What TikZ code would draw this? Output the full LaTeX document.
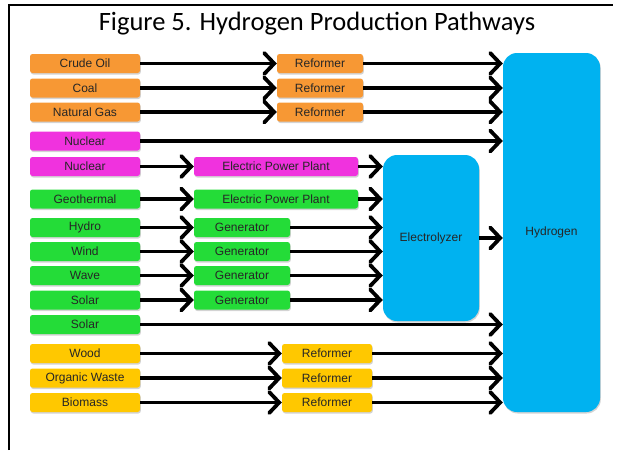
\documentclass[tikz,border=0pt]{standalone}
\usepackage{fontspec}
\setmainfont{Liberation Sans}
\newfontfamily\titlefont{Carlito}
\usetikzlibrary{arrows.meta, positioning, shadows}
\definecolor{fossil}{RGB}{247,152,52}
\definecolor{nuke}{RGB}{240,50,222}
\definecolor{renew}{RGB}{36,220,56}
\definecolor{bio}{RGB}{255,200,0}
\definecolor{sky}{RGB}{0,178,240}
\tikzset{
  src/.style={rounded corners=2.5pt, minimum height=19pt, inner sep=0pt, align=center,
    font=\fontsize{12}{14}\selectfont, text=black!85,
    drop shadow={shadow xshift=0.8pt, shadow yshift=-1.5pt, opacity=.35}},
  feed/.style={src, minimum width=110pt},
  tank/.style={src, rounded corners=14pt, fill=sky},
  arr/.style={-{Straight Barb[length=10pt, width=21pt, line cap=round, line join=miter]}, line width=3.8pt},
}

\begin{document}
\begin{tikzpicture}[x=1pt, y=-1pt]
    \useasboundingbox (0,0) rectangle (618,450);
    \draw[line width=2pt] (9,450) -- (9,5) -- (613,5);
    \node[font=\titlefont\fontsize{26.5}{30}\selectfont] (title) at (317,24) {Figure 5. Hydrogen Production Pathways};

    % sinks
    \node[tank, minimum width=97pt, minimum height=359pt] (h2) at (551.5,232.5) {Hydrogen};
    \node[tank, minimum width=96pt, minimum height=166pt] (elec) at (431,238) {Electrolyzer};

    % fossil
    \node[feed, fill=fossil] (oil) at (85,63.5) {Crude Oil};
    \node[feed, fill=fossil] (coal) at (85,88) {Coal};
    \node[feed, fill=fossil] (gas) at (85,112) {Natural Gas};
    \node[src, fill=fossil, minimum width=86pt] (ref1) at (320,63.5) {Reformer};
    \node[src, fill=fossil, minimum width=86pt] (ref2) at (320,88) {Reformer};
    \node[src, fill=fossil, minimum width=86pt] (ref3) at (320,112) {Reformer};

    % nuclear
    \node[feed, fill=nuke] (nuc1) at (85,141) {Nuclear};
    \node[feed, fill=nuke] (nuc2) at (85,166.5) {Nuclear};
    \node[src, fill=nuke, minimum width=164pt] (epp1) at (276,166.5) {Electric Power Plant};

    % renewables
    \node[feed, fill=renew] (geo) at (85,199) {Geothermal};
    \node[src, fill=renew, minimum width=164pt] (epp2) at (276,199) {Electric Power Plant};
    \node[feed, fill=renew] (hydro) at (85,227.5) {Hydro};
    \node[feed, fill=renew] (wind) at (85,251.5) {Wind};
    \node[feed, fill=renew] (wave) at (85,275.5) {Wave};
    \node[feed, fill=renew] (sol1) at (85,300) {Solar};
    \node[feed, fill=renew] (sol2) at (85,324.5) {Solar};
    \node[src, fill=renew, minimum width=96pt] (gen1) at (242,227.5) {Generator};
    \node[src, fill=renew, minimum width=96pt] (gen2) at (242,251.5) {Generator};
    \node[src, fill=renew, minimum width=96pt] (gen3) at (242,275.5) {Generator};
    \node[src, fill=renew, minimum width=96pt] (gen4) at (242,300) {Generator};

    % biomass
    \node[feed, fill=bio] (wood) at (85,353.5) {Wood};
    \node[feed, fill=bio] (waste) at (85,378) {Organic Waste};
    \node[feed, fill=bio] (biom) at (85,402.5) {Biomass};
    \node[src, fill=bio, minimum width=90pt] (ref4) at (327,353.5) {Reformer};
    \node[src, fill=bio, minimum width=90pt] (ref5) at (327,378) {Reformer};
    \node[src, fill=bio, minimum width=90pt] (ref6) at (327,402.5) {Reformer};

    % arrows
    \draw[arr] (oil) -- (ref1);
    \draw[arr] (coal) -- (ref2);
    \draw[arr] (gas) -- (ref3);
    \draw[arr] (ref1) -- (ref1 -| h2.west);
    \draw[arr] (ref2) -- (ref2 -| h2.west);
    \draw[arr] (ref3) -- (ref3 -| h2.west);
    \draw[arr] (nuc1) -- (nuc1 -| h2.west);
    \draw[arr] (nuc2) -- (epp1);
    \draw[arr] (epp1) -- (epp1 -| elec.west);
    \draw[arr] (geo) -- (epp2);
    \draw[arr] (epp2) -- (epp2 -| elec.west);
    \draw[arr] (hydro) -- (gen1);
    \draw[arr] (wind) -- (gen2);
    \draw[arr] (wave) -- (gen3);
    \draw[arr] (sol1) -- (gen4);
    \draw[arr] (gen1) -- (gen1 -| elec.west);
    \draw[arr] (gen2) -- (gen2 -| elec.west);
    \draw[arr] (gen3) -- (gen3 -| elec.west);
    \draw[arr] (gen4) -- (gen4 -| elec.west);
    \draw[arr] (elec) -- (elec -| h2.west);
    \draw[arr] (sol2) -- (sol2 -| h2.west);
    \draw[arr] (wood) -- (ref4);
    \draw[arr] (waste) -- (ref5);
    \draw[arr] (biom) -- (ref6);
    \draw[arr] (ref4) -- (ref4 -| h2.west);
    \draw[arr] (ref5) -- (ref5 -| h2.west);
    \draw[arr] (ref6) -- (ref6 -| h2.west);
\end{tikzpicture}
\end{document}
